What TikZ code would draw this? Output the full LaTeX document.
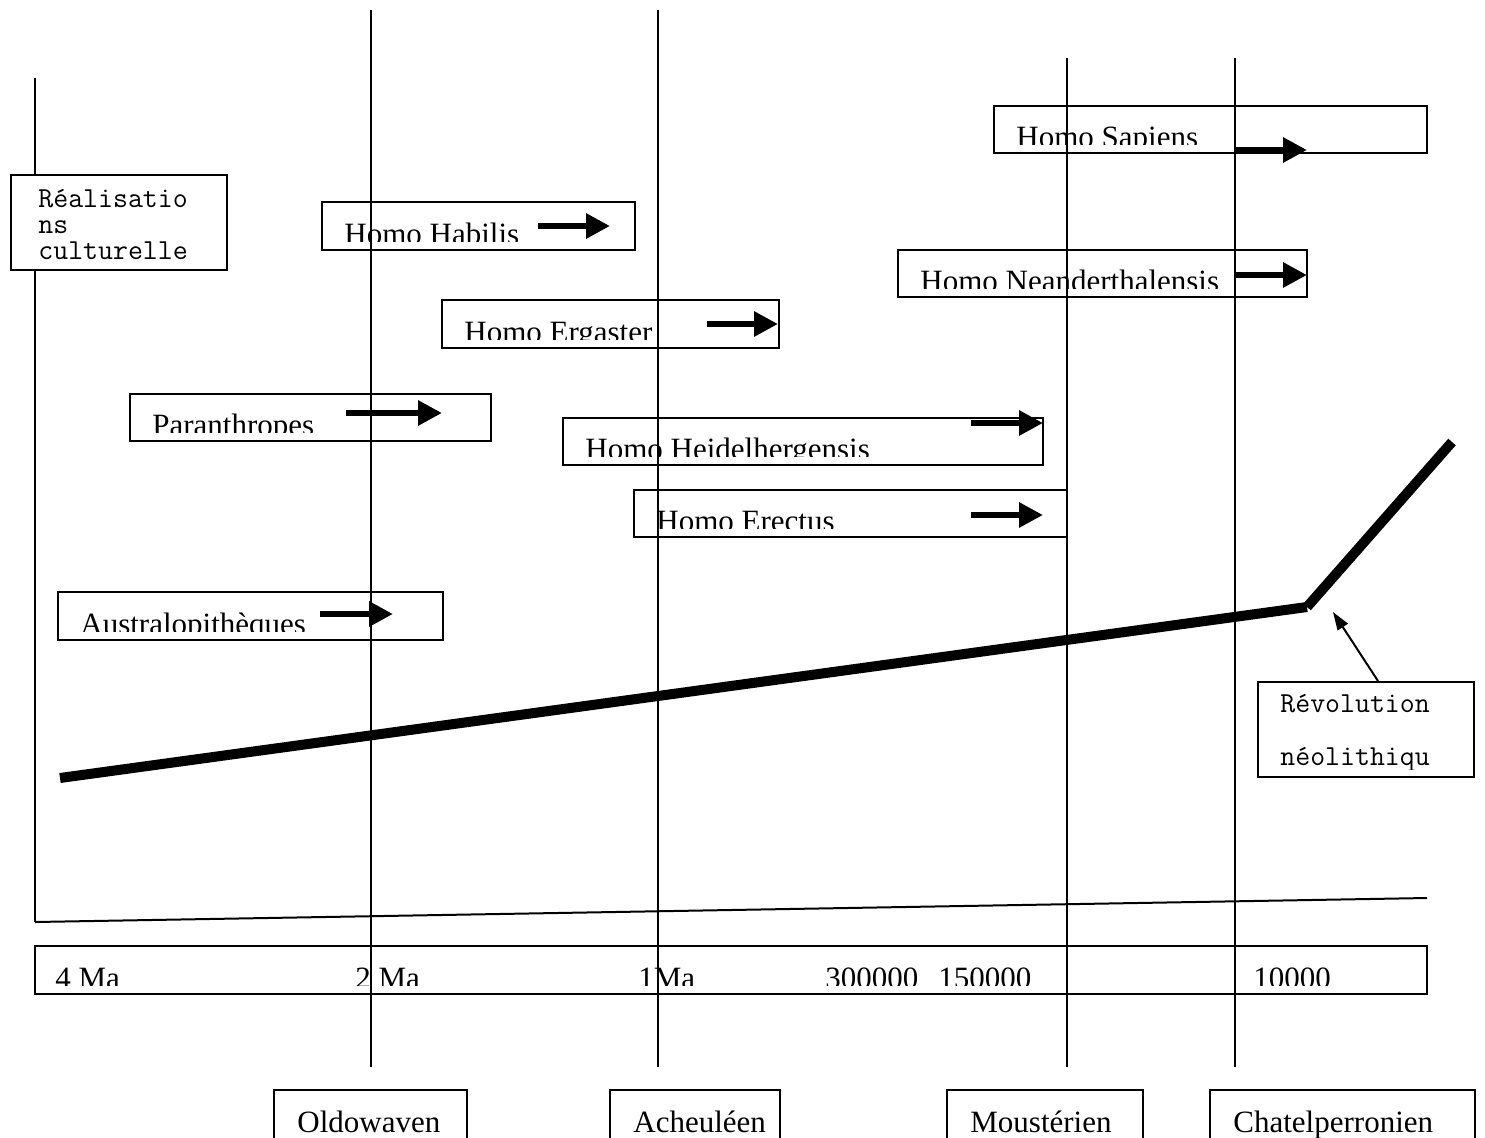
\documentclass[tikz,border=0pt]{standalone}
\usepackage{fontspec}
\setmainfont{Liberation Serif}
\usetikzlibrary{arrows.meta,fit}

\begin{document}
\begin{tikzpicture}[x=0.5pt,y=-0.5pt,
    frame/.style={draw,line width=1pt,inner sep=0pt},
    era/.style={line width=1pt},
    taxon/.style={anchor=base west,inner sep=0pt,font=\fontsize{15.5}{18}\selectfont},
    note/.style={anchor=base west,inner sep=0pt,align=left,font=\ttfamily\fontsize{14.5}{13}\selectfont},
    fatarrow/.style={line width=3pt,-{Triangle[length=12pt,width=12pt]}},
    trend/.style={line width=5pt}]
  \useasboundingbox (0,0) rectangle (1485,1137);
  \clip (0,0) rectangle (1485,1137);

  % periods
  \draw[era] (35,78) -- (35,922);
  \foreach \x/\y in {371/10,658/10,1067/58,1235/58}
    \draw[era] (\x,\y) -- (\x,1067);

  % time axis
  \draw[era] (35,922) -- (1427,898);
  \node[frame,fit={(35,946)(1427,994)}] (scale) {};
  \begin{scope}
    \clip (35,946) rectangle (1427,985);
    \foreach \x/\t [count=\i] in {55/4 Ma,355/2 Ma,638/1Ma,825/300000,938/150000,1253/10000}
      \node[taxon] (date\i) at (\x,988) {\t};
  \end{scope}

  % hominids
  \foreach \nm/\xa/\ya/\xb/\yb/\t in {
      habilis/322/202/635/250/Homo Habilis,
      ergaster/442/300/779/348/Homo Ergaster,
      paran/130/394/491/441/Paranthropes,
      heidel/563/418/1043/465/Homo Heidelhergensis,
      erectus/634/490/1067/537/Homo Erectus,
      austral/58/592/443/640/Australopithèques,
      sapiens/994/106/1427/153/Homo Sapiens,
      neander/898/250/1307/297/Homo Neanderthalensis}
  {
    \node[frame,fit={(\xa,\ya)(\xb,\yb)}] (\nm) {};
    \begin{scope}
      \clip (\xa,\ya) rectangle (\xb,\yb-9);
      \node[taxon] (\nm-t) at (\xa+22,\yb-6) {\t};
    \end{scope}
  }
  \foreach \xa/\xb/\y in {538/610/226,707/778/324,346/442/413,971/1043/423,
      971/1043/515,320/393/614,1235/1307/150,1235/1307/275}
    \draw[fatarrow] (\xa,\y) -- (\xb,\y);

  % culture
  \node[frame,fill=white,fit={(11,175)(227,270)}] (culture) {};
  \node[note] (culture-t) at (38,259) {Réalisatio\\ns\\culturelle};

  \coordinate (start) at (60,778);
  \coordinate (knee) at (1307,607);
  \coordinate (end) at (1452,442);
  \draw[trend] (start) -- (knee);
  \draw[trend] (knee) -- (end);

  \node[frame,fit={(1258,682)(1474,777)}] (revo) {};
  \begin{scope}
    \clip (1258,682) rectangle (1474,769);
    \node[note,font=\ttfamily\fontsize{14.5}{26.5}\selectfont] (revo-t) at (1280,765) {Révolution\\néolithiqu};
  \end{scope}
  \coordinate (tip) at (1333,612);
  \draw[line width=1pt,-{Triangle[length=9pt,width=6pt]}] ([xshift=6pt]revo.north) -- (tip);

  % industries
  \foreach \nm/\xa/\xb/\t in {oldowan/274/467/Oldowaven,acheul/610/780/Acheuléen,
      mouster/947/1143/Moustérien,chatel/1210/1475/Chatelperronien}
  {
    \node[frame,fit={(\xa,1090)(\xb,1160)}] (\nm) {};
    \node[taxon] (\nm-t) at (\xa+23,1132) {\t};
  }
\end{tikzpicture}
\end{document}
